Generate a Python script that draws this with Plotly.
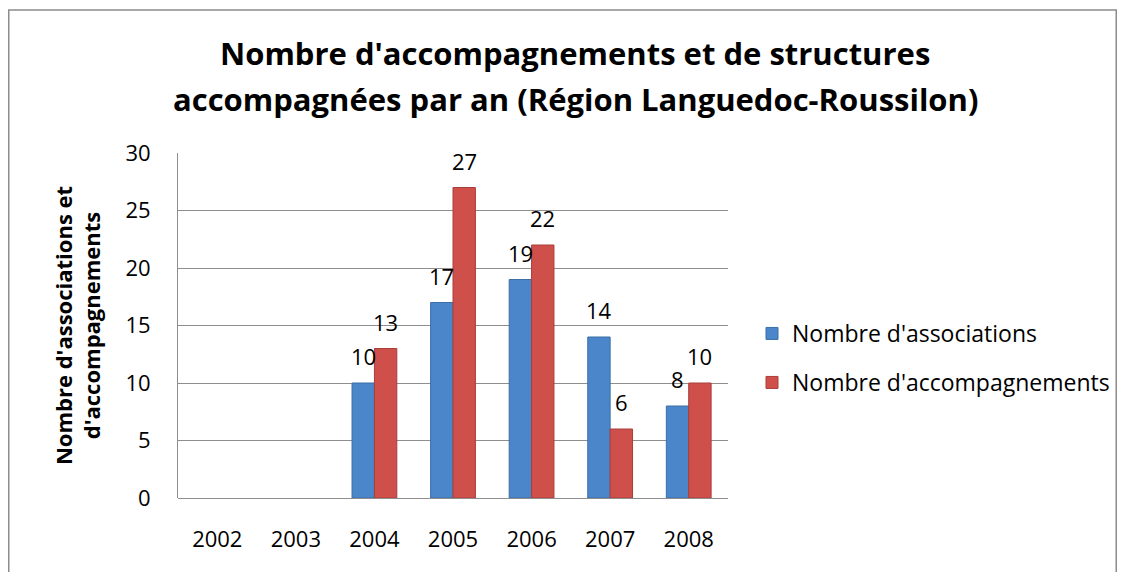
import plotly.graph_objects as go

years = ["2002", "2003", "2004", "2005", "2006", "2007", "2008"]
associations = [None, None, 10, 17, 19, 14, 8]
accompagnements = [None, None, 13, 27, 22, 6, 10]
series_names = ["Nombre d'associations", "Nombre d'accompagnements"]
title_lines = ["Nombre d'accompagnements et de structures",
               "accompagnées par an (Région Languedoc-Roussilon)"]
y_title = "Nombre d'associations et<br>d'accompagnements"

FONT = "Open Sans"
OFF = 8  # page body margin
W, H = 1125 - 2 * OFF, 580 - 2 * OFF
L, R, T, B = 178 - OFF, 728 - OFF, 153 - OFF, 498 - OFF
pw, ph = R - L, B - T

BLUE, BLUE_EDGE = "#4A86C9", "#3B6FA6"
RED, RED_EDGE = "#CF4F4B", "#A83E3A"
GRID = "#8E8E8E"
BARGAP = 0.43
half_bar = (pw / len(years)) * (1 - BARGAP) / 4
idx = list(range(len(years)))

fig = go.Figure()
fig.add_trace(go.Bar(
    x=idx, y=associations, name=series_names[0], legend="legend",
    marker=dict(color=BLUE, line=dict(color=BLUE_EDGE, width=1)),
))
fig.add_trace(go.Bar(
    x=idx, y=accompagnements, name=series_names[1], legend="legend2",
    marker=dict(color=RED, line=dict(color=RED_EDGE, width=1)),
))

annotations = []
for vals, sign in ((associations, -1), (accompagnements, 1)):
    for i, v in zip(idx, vals):
        if v is None:
            continue
        annotations.append(dict(
            x=i, y=v, xref="x", yref="y", text=str(v), showarrow=False,
            xanchor="center", yanchor="bottom", xshift=sign * half_bar, yshift=10,
            font=dict(family=FONT, size=22, color="#000000"),
        ))

def py(yfig):
    return (B - yfig) / ph

for line, yc in zip(title_lines, (53 - OFF, 99 - OFF)):
    annotations.append(dict(
        x=(575 - OFF - L) / pw, y=py(yc), xref="paper", yref="paper",
        text="<b>" + line + "</b>", showarrow=False,
        xanchor="center", yanchor="middle",
        font=dict(family=FONT, size=31, color="#000000"),
    ))

fig.add_shape(type="rect", xref="paper", yref="paper",
              x0=(0.75 - L) / pw, x1=(W - 0.75 - L) / pw,
              y0=py(H + 40), y1=py(2),
              line=dict(color="#8C8C8C", width=1.5), fillcolor="rgba(0,0,0,0)", layer="below")

legend_common = dict(
    xref="container", yref="container", xanchor="left", yanchor="top",
    font=dict(family=FONT, size=23, color="#000000"),
    itemwidth=30, bgcolor="rgba(0,0,0,0)", borderwidth=0,
)

fig.update_layout(
    width=W, height=H,
    margin=dict(l=L, r=W - R, t=T, b=H - B, pad=0, autoexpand=False),
    paper_bgcolor="white", plot_bgcolor="white",
    barmode="group", bargap=BARGAP, bargroupgap=0,
    font=dict(family=FONT, size=22, color="#000000"),
    annotations=annotations,
    xaxis=dict(
        range=[-0.5, len(years) - 0.5], tickmode="array", tickvals=idx, ticktext=years,
        showgrid=False, showline=False, ticks="", zeroline=False,
        tickfont=dict(size=22), ticklabelstandoff=26,
    ),
    yaxis=dict(
        range=[0, 30], dtick=5, showgrid=True, gridcolor=GRID, gridwidth=1,
        showline=True, linecolor=GRID, linewidth=1, zeroline=True,
        zerolinecolor=GRID, zerolinewidth=1, ticks="",
        tickfont=dict(size=22), ticklabelstandoff=22,
        title=dict(text="<b>" + y_title + "</b>", font=dict(size=22), standoff=18),
    ),
    legend=dict(x=(752 - OFF) / W, y=1 - (333 - OFF - 21) / H, **legend_common),
    legend2=dict(x=(752 - OFF) / W, y=1 - (382 - OFF - 21) / H, **legend_common),
    showlegend=True,
)

fig.write_html("out.html")
